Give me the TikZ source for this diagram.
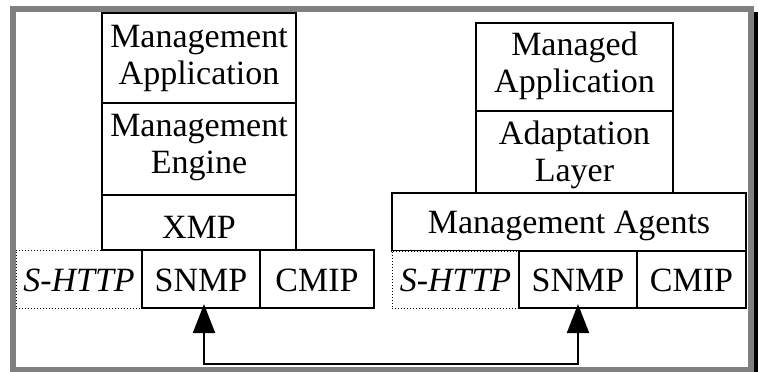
\documentclass[tikz,border=0pt]{standalone}
\usepackage{fontspec}
\setmainfont{Liberation Serif}
\usetikzlibrary{arrows.meta}
\begin{document}
\begin{tikzpicture}[x=1pt,y=-1pt,
  lbox/.style={draw, line width=2.2pt, inner sep=0pt, align=center,
    font=\fontsize{34}{37}\selectfont, fill=white},
  dbox/.style={lbox, line width=1pt, dotted, font=\fontsize{34}{37}\selectfont\itshape},
  bl/.style={text height=#1, text depth=0pt},
  arr/.style={line width=2.2pt, {Triangle[length=29pt,width=22pt]}-{Triangle[length=29pt,width=22pt]}, shorten <=-5pt, shorten >=-5pt}]
\useasboundingbox (0,0) rectangle (758,372);
% frame
\fill[black] (753,12) rectangle (758,372);
\draw[line width=6pt, color={rgb,255:red,128;green,128;blue,128}] (13,9) rectangle (750.5,369.5);
% left column
\node[dbox, bl=25pt, minimum width=126pt, minimum height=58pt] (sL) at (79,279) {S-HTTP};
\node[lbox, bl=52pt, minimum width=194pt, minimum height=90pt] (ma) at (199,58) {Management\\Application};
\node[lbox, bl=48pt, minimum width=194pt, minimum height=92pt] (me) at (199,149) {Management\\Engine};
\node[lbox, bl=31pt, minimum width=194pt, minimum height=55pt] (xmp) at (199,222.5) {XMP};
\node[lbox, bl=25pt, minimum width=118pt, minimum height=58pt] (snmpL) at (201,279) {SNMP};
\node[lbox, bl=25pt, minimum width=114pt, minimum height=58pt] (cmipL) at (317,279) {CMIP};
% right column
\node[lbox, bl=50pt, minimum width=197pt, minimum height=88pt] (mda) at (574.5,67) {Managed\\Application};
\node[lbox, bl=58pt, minimum width=197pt, minimum height=82pt] (al) at (574.5,152) {Adaptation\\Layer};
\node[lbox, bl=22pt, minimum width=354pt, minimum height=58pt] (ag) at (569,222) {Management Agents};
\node[dbox, bl=23pt, minimum width=127pt, minimum height=57pt] (sR) at (455.5,279.5) {S-HTTP};
\node[lbox, bl=23pt, minimum width=118pt, minimum height=57pt] (snmpR) at (578,279.5) {SNMP};
\node[lbox, bl=23pt, minimum width=109pt, minimum height=57pt] (cmipR) at (691.5,279.5) {CMIP};
% connector
\draw[arr] ([xshift=3pt]snmpL.south) -- ++(0,55) -| (snmpR.south);
\end{tikzpicture}
\end{document}
